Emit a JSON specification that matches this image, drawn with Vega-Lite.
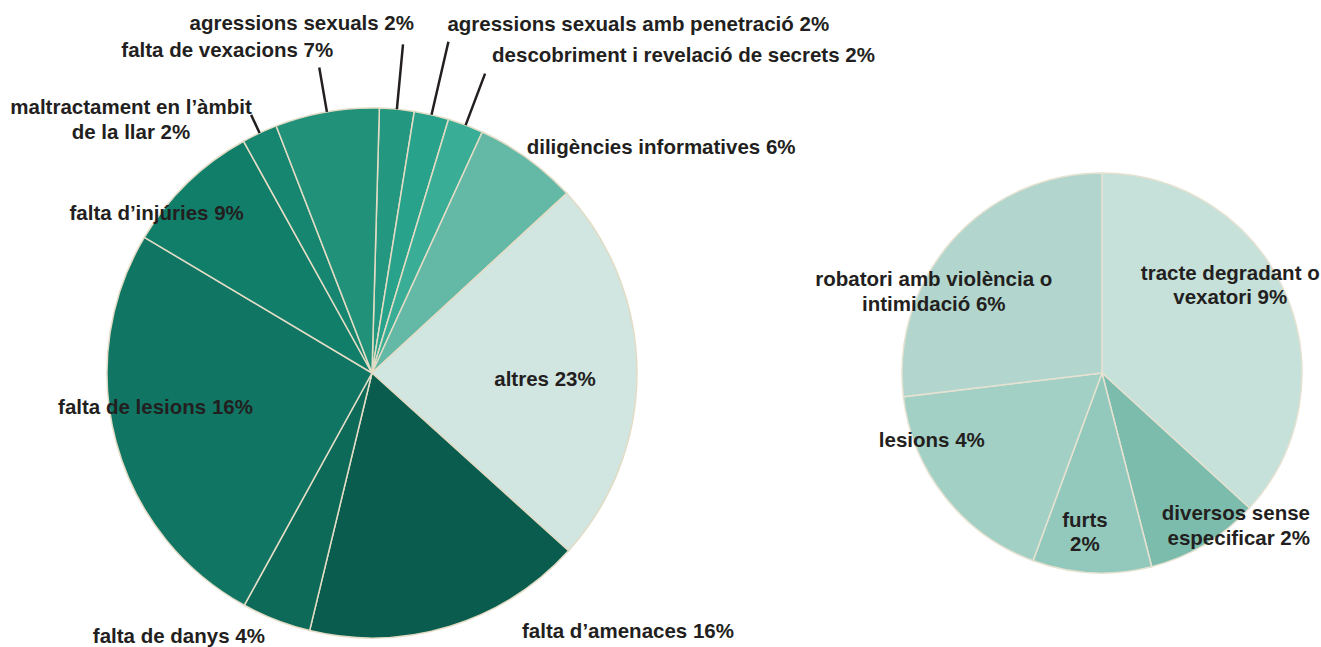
{
  "$schema": "https://vega.github.io/schema/vega-lite/v6.json",
  "width": 1321,
  "height": 546,
  "autosize": "none",
  "padding": {"top": 100, "left": 0, "right": 0, "bottom": 1},
  "background": "#ffffff",
  "config": {
    "view": {"stroke": null},
    "text": {"font": "Liberation Sans", "fontSize": 20.5, "fontWeight": "bold", "fill": "#231f20", "lineBreak": "\n", "lineHeight": 24.5, "baseline": "middle"}
  },
  "datasets": {
    "main": [
      {"pie": "main", "rank": 1, "name": "agressions sexuals", "share": 2.11, "label": "agressions sexuals 2%"},
      {"pie": "main", "rank": 2, "name": "agressions sexuals amb penetració", "share": 2.11, "label": "agressions sexuals  amb penetració 2%"},
      {"pie": "main", "rank": 3, "name": "descobriment i revelació de secrets", "share": 2.17, "label": "descobriment i revelació de secrets 2%"},
      {"pie": "main", "rank": 4, "name": "diligències informatives", "share": 6.31, "label": "diligències informatives 6%"},
      {"pie": "main", "rank": 5, "name": "altres", "share": 23.56, "label": "altres 23%"},
      {"pie": "main", "rank": 6, "name": "falta d’amenaces", "share": 17.08, "label": "falta d’amenaces 16%"},
      {"pie": "main", "rank": 7, "name": "falta de danys", "share": 4.22, "label": "falta de danys 4%"},
      {"pie": "main", "rank": 8, "name": "falta de lesions", "share": 25.56, "label": "falta de lesions 16%"},
      {"pie": "main", "rank": 9, "name": "falta d’injúries", "share": 8.39, "label": "falta d’injúries 9%"},
      {"pie": "main", "rank": 10, "name": "maltractament en l’àmbit de la llar", "share": 2.17, "label": "maltractament en l’àmbit\nde la llar 2%"},
      {"pie": "main", "rank": 11, "name": "falta de vexacions", "share": 6.33, "label": "falta de vexacions 7%"}
    ],
    "detail": [
      {"pie": "detail", "rank": 1, "name": "tracte degradant o vexatori", "share": 36.8, "label": "tracte degradant o\nvexatori 9%"},
      {"pie": "detail", "rank": 2, "name": "diversos sense especificar", "share": 9.2, "label": "diversos sense\nespecificar 2%"},
      {"pie": "detail", "rank": 3, "name": "furts", "share": 9.6, "label": "furts\n2%"},
      {"pie": "detail", "rank": 4, "name": "lesions", "share": 17.5, "label": "lesions 4%"},
      {"pie": "detail", "rank": 5, "name": "robatori amb violència o intimidació", "share": 26.9, "label": "robatori amb violència o\nintimidació 6%"}
    ]
  },
  "layer": [
    {
      "data": {"name": "main"},
      "encoding": {
        "x": {"field": "pie", "type": "nominal", "scale": {"domain": ["main", "detail"], "padding": 0.4048, "align": 0.6294}, "axis": null},
        "theta": {"field": "share", "type": "quantitative", "stack": true, "scale": {"range": [0.0279, 6.3111]}},
        "order": {"field": "rank", "type": "quantitative"}
      },
      "layer": [
        {
          "mark": {"type": "arc", "outerRadius": 265, "stroke": "#e3dcc5", "strokeWidth": 1.5},
          "encoding": {
            "color": {
              "field": "name", "type": "nominal", "legend": null,
              "scale": {
                "domain": ["agressions sexuals", "agressions sexuals amb penetració", "descobriment i revelació de secrets", "diligències informatives", "altres", "falta d’amenaces", "falta de danys", "falta de lesions", "falta d’injúries", "maltractament en l’àmbit de la llar", "falta de vexacions"],
                "range": ["#23977f", "#28a28a", "#39ad95", "#63b8a6", "#d1e5e1", "#0a5d4e", "#0d6a59", "#107563", "#117e6a", "#178670", "#21917a"]
              }
            }
          }
        },
        {"mark": {"type": "arc", "filled": false, "stroke": "#231f20", "strokeWidth": 2.5, "padAngle": 3, "innerRadius": 265, "outerRadius": 330},
         "encoding": {"strokeOpacity": {"condition": {"test": "datum.rank === 1", "value": 1}, "value": 0}}},
        {"mark": {"type": "arc", "filled": false, "stroke": "#231f20", "strokeWidth": 2.5, "padAngle": 3, "innerRadius": 265, "outerRadius": 340},
         "encoding": {"strokeOpacity": {"condition": {"test": "datum.rank === 2", "value": 1}, "value": 0}}},
        {"mark": {"type": "arc", "filled": false, "stroke": "#231f20", "strokeWidth": 2.5, "padAngle": 3, "innerRadius": 265, "outerRadius": 320},
         "encoding": {"strokeOpacity": {"condition": {"test": "datum.rank === 3", "value": 1}, "value": 0}}},
        {"mark": {"type": "arc", "filled": false, "stroke": "#231f20", "strokeWidth": 2.5, "padAngle": 3, "innerRadius": 265, "outerRadius": 285},
         "encoding": {"strokeOpacity": {"condition": {"test": "datum.rank === 10", "value": 1}, "value": 0}}},
        {"mark": {"type": "arc", "filled": false, "stroke": "#231f20", "strokeWidth": 2.5, "padAngle": 3, "innerRadius": 265, "outerRadius": 310},
         "encoding": {"strokeOpacity": {"condition": {"test": "datum.rank === 11", "value": 1}, "value": 0}}},
        {"mark": {"type": "text", "radius": 330, "align": "right", "dx": 11, "dy": -20},
         "encoding": {"text": {"condition": {"test": "datum.rank === 1", "field": "label"}, "value": ""}}},
        {"mark": {"type": "text", "radius": 340, "align": "left", "dx": -1, "dy": -17},
         "encoding": {"text": {"condition": {"test": "datum.rank === 2", "field": "label"}, "value": ""}}},
        {"mark": {"type": "text", "radius": 320, "align": "left", "dx": 7, "dy": -18},
         "encoding": {"text": {"condition": {"test": "datum.rank === 3", "field": "label"}, "value": ""}}},
        {"mark": {"type": "text", "radius": 272, "align": "left", "dx": -5, "dy": -5},
         "encoding": {"text": {"condition": {"test": "datum.rank === 4", "field": "label"}, "value": ""}}},
        {"mark": {"type": "text", "radius": 173, "align": "center", "dx": 0, "dy": 8},
         "encoding": {"text": {"condition": {"test": "datum.rank === 5", "field": "label"}, "value": ""}}},
        {"mark": {"type": "text", "radius": 275, "align": "left", "dx": 69, "dy": -4},
         "encoding": {"text": {"condition": {"test": "datum.rank === 6", "field": "label"}, "value": ""}}},
        {"mark": {"type": "text", "radius": 285, "align": "right", "dx": -4, "dy": -2},
         "encoding": {"text": {"condition": {"test": "datum.rank === 7", "field": "label"}, "value": ""}}},
        {"mark": {"type": "text", "radius": 215, "align": "center", "dx": -9, "dy": -21},
         "encoding": {"text": {"condition": {"test": "datum.rank === 8", "field": "label"}, "value": ""}}},
        {"mark": {"type": "text", "radius": 210, "align": "right", "dx": 18, "dy": -8},
         "encoding": {"text": {"condition": {"test": "datum.rank === 9", "field": "label"}, "value": ""}}},
        {"mark": {"type": "text", "radius": 290, "align": "center", "dx": -118, "dy": -2},
         "encoding": {"text": {"condition": {"test": "datum.rank === 10", "field": "label"}, "value": ""}}},
        {"mark": {"type": "text", "radius": 310, "align": "right", "dx": 14, "dy": -17},
         "encoding": {"text": {"condition": {"test": "datum.rank === 11", "field": "label"}, "value": ""}}}
      ]
    },
    {
      "data": {"name": "detail"},
      "encoding": {
        "x": {"field": "pie", "type": "nominal", "scale": {"domain": ["main", "detail"], "padding": 0.4048, "align": 0.6294}, "axis": null},
        "theta": {"field": "share", "type": "quantitative", "stack": true},
        "order": {"field": "rank", "type": "quantitative"}
      },
      "layer": [
        {
          "mark": {"type": "arc", "outerRadius": 200, "stroke": "#e6e2d2", "strokeWidth": 1.5},
          "encoding": {
            "color": {
              "field": "name", "type": "nominal", "legend": null,
              "scale": {
                "domain": ["tracte degradant o vexatori", "diversos sense especificar", "furts", "lesions", "robatori amb violència o intimidació"],
                "range": ["#c6e0da", "#7bbcad", "#92c9bc", "#a3d0c5", "#b2d6cd"]
              }
            }
          }
        },
        {"mark": {"type": "text", "radius": 150, "align": "center", "dx": -9, "dy": -39},
         "encoding": {"text": {"condition": {"test": "datum.rank === 1", "field": "label"}, "value": ""}}},
        {"mark": {"type": "text", "radius": 175, "align": "right", "dx": 118, "dy": -9},
         "encoding": {"text": {"condition": {"test": "datum.rank === 2", "field": "label"}, "value": ""}}},
        {"mark": {"type": "text", "radius": 160, "align": "center", "dx": -9, "dy": -12},
         "encoding": {"text": {"condition": {"test": "datum.rank === 3", "field": "label"}, "value": ""}}},
        {"mark": {"type": "text", "radius": 180, "align": "center", "dx": -29, "dy": -44},
         "encoding": {"text": {"condition": {"test": "datum.rank === 4", "field": "label"}, "value": ""}}},
        {"mark": {"type": "text", "radius": 170, "align": "center", "dx": -41, "dy": 20},
         "encoding": {"text": {"condition": {"test": "datum.rank === 5", "field": "label"}, "value": ""}}}
      ]
    }
  ],
  "resolve": {"scale": {"theta": "independent", "color": "independent"}}
}
